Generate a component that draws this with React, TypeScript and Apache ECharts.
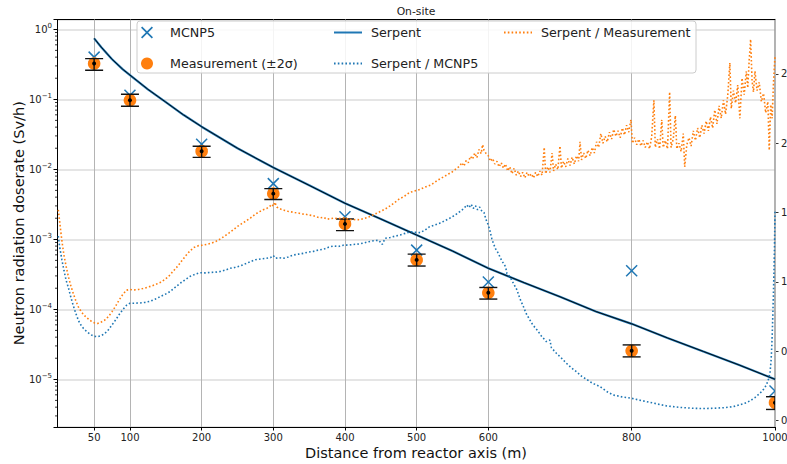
import { useEffect, useRef } from "react";
import * as echarts from "echarts";

const FONT = "DejaVu Sans";
const BLUE = "#1f77b4";
const ORANGE = "#ff7f0e";
const TEXT = "#222222";

// Distance ticks on the x axis (m)
const distanceTicks = [50, 100, 200, 300, 400, 500, 600, 800, 1000];
// Ticks of the ratio axis
const ratioTicks = [0, 0.5, 1, 1.5, 2, 2.5];
// Minor ticks of the log dose axis
const logMinorTicks = [
  3e-6, 4e-6, 5e-6, 6e-6, 7e-6, 8e-6, 9e-6,
  2e-5, 3e-5, 4e-5, 5e-5, 6e-5, 7e-5, 8e-5, 9e-5,
  2e-4, 3e-4, 4e-4, 5e-4, 6e-4, 7e-4, 8e-4, 9e-4,
  2e-3, 3e-3, 4e-3, 5e-3, 6e-3, 7e-3, 8e-3, 9e-3,
  2e-2, 3e-2, 4e-2, 5e-2, 6e-2, 7e-2, 8e-2, 9e-2,
  2e-1, 3e-1, 4e-1, 5e-1, 6e-1, 7e-1, 8e-1, 9e-1,
];

// Measurement points (Sv/h) with ±2σ bounds
const measurementDistance = [50, 100, 200, 300, 400, 500, 600, 800, 1000];
const measurement = [0.324, 0.0968, 0.0181, 0.00449, 0.00166, 0.000508, 0.000172, 2.55e-5, 4.63e-6];
const measurementLow = [0.26, 0.0796, 0.0148, 0.0037, 0.00133, 0.000415, 0.00014, 2.09e-5, 3.71e-6];
const measurementHigh = [0.381, 0.118, 0.0213, 0.0053, 0.00195, 0.000614, 0.000205, 3.1e-5, 5.64e-6];

// MCNP5 results (Sv/h)
const mcnp5 = [0.4, 0.114, 0.0228, 0.00624, 0.0021, 0.0007, 0.000246, 0.000355, 6.8e-6];

// Serpent dose rate along the distance (Sv/h)
const serpentDistance = [
  50, 60, 75, 90, 100, 125, 150, 175, 200, 250, 300, 350, 400, 450, 500, 550, 600, 650,
  700, 750, 800, 850, 900, 950, 1000,
];
const serpentDose = [
  0.743, 0.555, 0.373, 0.268, 0.222, 0.139, 0.091, 0.0596, 0.0406, 0.02, 0.0106, 0.0059,
  0.00327, 0.00195, 0.00115, 0.00068, 0.000385, 0.00024, 0.000151, 9.3e-5, 6.2e-5, 3.9e-5,
  2.5e-5, 1.6e-5, 1.0e-5,
];

// Ratio Serpent / Measurement along the distance
const serpentOverMeasurement: [number, number][] = [
  [0, 1.52], [2, 1.43], [4, 1.34], [6, 1.26], [8, 1.19], [11, 1.11], [14, 1.04], [17, 0.98],
  [20, 0.93], [24, 0.87], [28, 0.82], [32, 0.785], [36, 0.76], [40, 0.74], [45, 0.72], [50, 0.705],
  [55, 0.7], [60, 0.71], [65, 0.725], [70, 0.75], [75, 0.785], [80, 0.825], [85, 0.87], [90, 0.91],
  [95, 0.94], [100, 0.945], [106, 0.942], [112, 0.945], [118, 0.952], [124, 0.96], [130, 0.97],
  [136, 0.982], [142, 0.995], [148, 1.015], [154, 1.04], [160, 1.075], [166, 1.11], [172, 1.15],
  [178, 1.19], [184, 1.225], [190, 1.25], [196, 1.262], [202, 1.265], [208, 1.272], [214, 1.28],
  [220, 1.292], [226, 1.31], [232, 1.33], [238, 1.352], [244, 1.375], [250, 1.4], [256, 1.42],
  [262, 1.44], [268, 1.46], [274, 1.485], [280, 1.505], [286, 1.52], [291, 1.53], [295, 1.545],
  [298, 1.56], [300, 1.545], [302, 1.575], [305, 1.54], [308, 1.53], [312, 1.522], [316, 1.515],
  [320, 1.51], [325, 1.505], [330, 1.5], [335, 1.497], [340, 1.49], [345, 1.488], [350, 1.482],
  [355, 1.478], [360, 1.47], [365, 1.462], [370, 1.466], [375, 1.452], [380, 1.457], [385, 1.46],
  [390, 1.455], [395, 1.46], [400, 1.462], [405, 1.452], [410, 1.447], [415, 1.45], [420, 1.448],
  [425, 1.455], [430, 1.462], [435, 1.472], [440, 1.485], [445, 1.497], [450, 1.51], [455, 1.522],
  [460, 1.538], [465, 1.556], [470, 1.575], [475, 1.595], [480, 1.61], [485, 1.625], [490, 1.645],
  [495, 1.652], [500, 1.66], [505, 1.668], [510, 1.68], [515, 1.69], [520, 1.7], [525, 1.718],
  [530, 1.735], [535, 1.75], [540, 1.765], [545, 1.78], [550, 1.795], [555, 1.815], [560, 1.835],
  [563, 1.86], [566, 1.835], [569, 1.875], [572, 1.86], [575, 1.905], [578, 1.885], [581, 1.93],
  [584, 1.895], [587, 1.955], [590, 1.925], [592, 1.99], [594, 1.95], [597, 1.925],
  [600, 1.91], [603, 1.87], [606, 1.89], [609, 1.85], [612, 1.87], [615, 1.83], [618, 1.86],
  [621, 1.82], [624, 1.85], [627, 1.8], [630, 1.83], [633, 1.78], [636, 1.82], [639, 1.77],
  [642, 1.8], [645, 1.76], [648, 1.79], [651, 1.75], [654, 1.79], [657, 1.76], [660, 1.78],
  [663, 1.75], [666, 1.79], [669, 1.76], [672, 1.8], [675, 1.77], [678, 1.97], [680, 1.78],
  [683, 1.83], [686, 1.79], [689, 1.93], [691, 1.8], [694, 1.85], [697, 1.81], [700, 1.98],
  [702, 1.82], [705, 1.87], [708, 1.83], [711, 1.89], [714, 1.84], [717, 1.9], [720, 1.85],
  [723, 1.91], [726, 1.87], [728, 2.01], [730, 1.88], [733, 1.93], [736, 1.89], [739, 1.95],
  [742, 1.91], [745, 1.97], [748, 1.93], [751, 2.01], [754, 1.97], [757, 2.07], [760, 2.0],
  [763, 2.05], [766, 2.01], [769, 2.08], [772, 2.03], [775, 2.1], [778, 2.05], [781, 2.09],
  [784, 2.04], [787, 2.11], [790, 2.06], [793, 2.13], [796, 2.08], [799, 2.17], [801, 2.0],
  [804, 2.04], [807, 1.99], [810, 2.03], [813, 1.98], [816, 2.02], [819, 1.97], [822, 2.01],
  [825, 1.96], [828, 2.05], [831, 2.31], [833, 1.97], [836, 2.03], [839, 1.96], [842, 2.17],
  [844, 1.97], [847, 2.02], [850, 1.96], [853, 2.37], [855, 1.97], [858, 2.03], [861, 2.2],
  [863, 1.96], [866, 2.0], [869, 1.94], [872, 2.07], [874, 1.83], [877, 1.99], [880, 2.04],
  [883, 1.98], [886, 2.09], [889, 2.02], [892, 2.11], [895, 2.04], [898, 2.13], [901, 2.07],
  [904, 2.16], [907, 2.09], [910, 2.19], [913, 2.11], [916, 2.24], [919, 2.14], [922, 2.27],
  [925, 2.18], [928, 2.31], [931, 2.21], [934, 2.34], [937, 2.58], [939, 2.25], [942, 2.38],
  [945, 2.29], [948, 2.42], [951, 2.18], [954, 2.47], [957, 2.35], [960, 2.52], [962, 2.4],
  [964, 2.6], [966, 2.75], [968, 2.45], [970, 2.37], [972, 2.52], [975, 2.38], [978, 2.44],
  [981, 2.3], [984, 2.36], [987, 2.22], [990, 2.3], [992, 1.95], [994, 2.28], [996, 2.18],
  [998, 2.45], [1000, 2.63],
];

// Ratio Serpent / MCNP5 along the distance
const serpentOverMcnp5: [number, number][] = [
  [0, 1.33], [2, 1.25], [5, 1.16], [8, 1.08], [11, 1.01], [14, 0.96], [18, 0.88], [22, 0.81],
  [26, 0.75], [30, 0.7], [35, 0.665], [40, 0.64], [45, 0.62], [50, 0.607], [55, 0.605],
  [60, 0.612], [65, 0.628], [70, 0.655], [75, 0.69], [80, 0.725], [85, 0.765], [90, 0.8],
  [95, 0.83], [100, 0.846], [107, 0.846], [114, 0.848], [121, 0.852], [128, 0.86], [135, 0.875],
  [142, 0.893], [149, 0.91], [156, 0.93], [163, 0.96], [170, 0.99], [177, 1.015], [184, 1.04],
  [191, 1.055], [198, 1.066], [205, 1.065], [212, 1.068], [219, 1.07], [226, 1.075], [233, 1.085],
  [240, 1.098], [247, 1.105], [254, 1.115], [261, 1.13], [268, 1.146], [275, 1.16], [282, 1.165],
  [289, 1.17], [296, 1.175], [300, 1.19], [303, 1.17], [307, 1.175], [314, 1.17], [321, 1.18],
  [328, 1.194], [335, 1.2], [342, 1.206], [349, 1.215], [356, 1.22], [363, 1.23], [370, 1.235],
  [377, 1.25], [384, 1.259], [391, 1.255], [398, 1.265], [405, 1.266], [412, 1.27], [419, 1.273],
  [426, 1.28], [433, 1.29], [440, 1.297], [447, 1.3], [452, 1.27], [456, 1.315], [463, 1.32],
  [470, 1.33], [477, 1.338], [484, 1.35], [491, 1.362], [498, 1.358], [505, 1.355], [512, 1.375],
  [518, 1.398], [525, 1.41], [532, 1.423], [539, 1.44], [546, 1.459], [553, 1.48], [560, 1.506],
  [566, 1.53], [570, 1.555], [573, 1.535], [576, 1.56], [579, 1.53], [582, 1.55], [585, 1.52],
  [588, 1.54], [591, 1.51], [594, 1.5], [597, 1.447], [600, 1.41], [602, 1.374], [605, 1.31],
  [607, 1.278], [610, 1.24], [614, 1.206], [617, 1.17], [621, 1.134], [624, 1.11], [626, 1.06],
  [630, 1.038], [635, 0.99], [640, 0.942], [644, 0.88], [649, 0.821], [653, 0.77], [658, 0.725],
  [662, 0.69], [668, 0.653], [674, 0.61], [681, 0.569], [686, 0.58], [688, 0.525], [695, 0.485],
  [702, 0.45], [709, 0.413], [716, 0.38], [723, 0.352], [730, 0.32], [737, 0.297], [745, 0.27],
  [756, 0.244], [765, 0.21], [774, 0.184], [787, 0.17], [800, 0.16], [810, 0.148], [821, 0.136],
  [835, 0.12], [849, 0.105], [866, 0.095], [886, 0.088], [900, 0.086], [914, 0.088], [928, 0.092],
  [942, 0.1], [950, 0.112], [958, 0.125], [965, 0.141], [972, 0.165], [979, 0.196], [984, 0.225],
  [988, 0.256], [991, 0.3], [993, 0.341], [994.5, 0.43], [995.5, 0.532], [996.5, 0.68],
  [997.7, 0.893], [998.5, 1.06], [999.3, 1.254], [1000, 1.506],
];

const X_MIN = -1.8;
const X_MAX = 1000;
const DOSE_MIN = 2.083e-6;
const DOSE_MAX = 1.38;
const RATIO_MIN = -0.047;
const RATIO_MAX = 2.893;

const X_ICON = "path://M0,1L1,0L5,4L9,0L10,1L6,5L10,9L9,10L5,6L1,10L0,9L4,5Z";
const DOT_DASH = [1.6, 2.2];

function powerLabel(v: number): string {
  const e = Math.log10(v);
  const r = Math.round(e);
  if (Math.abs(e - r) > 1e-6) return "";
  const exp = r < 0 ? "\u2212" + Math.abs(r) : String(r);
  return `{b|10}{s|${exp}}`;
}

const legendBase = {
  orient: "horizontal",
  padding: 0,
  itemWidth: 28,
  itemHeight: 12,
  selectedMode: false,
  textStyle: { fontFamily: FONT, fontSize: 12.7, color: TEXT, padding: [0, 0, 0, 4] },
};

// line entries show only the stroke, no point symbol
const lineEntry = (name: string) => ({ name, itemStyle: { opacity: 0 } });

function buildOption() {
  return {
    animation: false,
    backgroundColor: "#ffffff",
    grid: { left: 57, right: 12, top: 19.5, bottom: 37, outerBoundsMode: "none" },
    graphic: [
      {
        type: "text",
        x: 416,
        y: 11,
        style: {
          text: "On-site",
          align: "center",
          verticalAlign: "middle",
          textAlign: "center",
          textVerticalAlign: "middle",
          fontFamily: FONT,
          fontSize: 10.8,
          fill: TEXT,
        },
      },
      {
        type: "rect",
        z: 3,
        shape: { x: 137, y: 21, width: 559, height: 52, r: 3 },
        style: { fill: "rgba(255,255,255,0.85)", stroke: "#cccccc", lineWidth: 1 },
      },
    ],
    legend: [
      { ...legendBase, left: 141, top: 26, data: [{ name: "MCNP5", icon: X_ICON }] },
      { ...legendBase, left: 141, top: 57, data: [{ name: "Measurement (±2σ)", icon: "circle" }] },
      { ...legendBase, left: 333, top: 26, data: [lineEntry("Serpent")] },
      { ...legendBase, left: 333, top: 57, data: [lineEntry("Serpent / MCNP5")] },
      { ...legendBase, left: 503, top: 26, data: [lineEntry("Serpent / Measurement")] },
    ],
    xAxis: [
      {
        type: "value",
        min: X_MIN,
        max: X_MAX,
        position: "bottom",
        axisLine: { show: true, onZero: false, lineStyle: { color: "#000", width: 1 } },
        axisTick: { show: true, customValues: distanceTicks, length: 3.5, lineStyle: { color: "#000" } },
        axisLabel: {
          customValues: distanceTicks,
          formatter: (v: number) => String(v),
          fontFamily: FONT,
          fontSize: 10,
          color: TEXT,
          margin: 5,
        },
        splitLine: { show: false },
        name: "Distance from reactor axis (m)",
        nameLocation: "middle",
        nameGap: 18,
        nameMoveOverlap: false,
        nameTextStyle: { fontFamily: FONT, fontSize: 14.5, color: "#111" },
      },
      {
        type: "value",
        min: X_MIN,
        max: X_MAX,
        position: "top",
        axisLine: { show: true, onZero: false, lineStyle: { color: "#000", width: 1 } },
        axisTick: { show: false },
        axisLabel: { show: false },
        splitLine: { show: false },
      },
    ],
    yAxis: [
      {
        type: "log",
        logBase: 10,
        min: DOSE_MIN,
        max: DOSE_MAX,
        position: "left",
        axisLine: { show: true, onZero: false, lineStyle: { color: "#000", width: 1 } },
        axisTick: { show: true, length: 3.5, lineStyle: { color: "#000" } },
        axisLabel: {
          formatter: powerLabel,
          margin: 5,
          color: TEXT,
          rich: {
            b: { fontFamily: FONT, fontSize: 10, lineHeight: 13, color: TEXT },
            s: { fontFamily: FONT, fontSize: 7, lineHeight: 8, verticalAlign: "top", color: TEXT },
          },
        },
        splitLine: { show: true, lineStyle: { color: "#dddddd", width: 1.5 } },
        name: "Neutron radiation doserate (Sv/h)",
        nameLocation: "middle",
        nameGap: 31,
        nameMoveOverlap: false,
        nameTextStyle: { fontFamily: FONT, fontSize: 14.5, color: "#111" },
      },
      {
        type: "value",
        min: RATIO_MIN,
        max: RATIO_MAX,
        position: "right",
        axisLine: { show: true, onZero: false, lineStyle: { color: "#999999", width: 1.5 } },
        axisTick: { show: true, customValues: ratioTicks, length: 3.5, lineStyle: { color: "#333" } },
        axisLabel: {
          customValues: ratioTicks,
          formatter: (v: number) => v.toFixed(1),
          fontFamily: FONT,
          fontSize: 10,
          color: TEXT,
          margin: 6,
        },
        splitLine: { show: false },
      },
    ],
    series: [
      {
        name: "MCNP5",
        type: "custom",
        xAxisIndex: 0,
        yAxisIndex: 0,
        clip: true,
        z: 2,
        itemStyle: { color: BLUE },
        data: measurementDistance.map((d, i) => [d, mcnp5[i]]),
        encode: { x: 0, y: 1 },
        renderItem: (_p: any, api: any) => {
          const c = api.coord([api.value(0), api.value(1)]);
          const h = 5.5;
          const st = { stroke: BLUE, lineWidth: 1.5 };
          return {
            type: "group",
            children: [
              { type: "line", shape: { x1: c[0] - h, y1: c[1] - h, x2: c[0] + h, y2: c[1] + h }, style: st },
              { type: "line", shape: { x1: c[0] - h, y1: c[1] + h, x2: c[0] + h, y2: c[1] - h }, style: st },
            ],
          };
        },
      },
      {
        name: "Measurement (±2σ)",
        type: "custom",
        xAxisIndex: 0,
        yAxisIndex: 0,
        clip: true,
        z: 2,
        itemStyle: { color: ORANGE },
        data: measurementDistance.map((d, i) => [d, measurement[i], measurementLow[i], measurementHigh[i]]),
        encode: { x: 0, y: [1, 2, 3] },
        renderItem: (_p: any, api: any) => {
          const x = api.value(0);
          const c = api.coord([x, api.value(1)]);
          const lo = api.coord([x, api.value(2)]);
          const hi = api.coord([x, api.value(3)]);
          const cap = 9;
          const bar = { stroke: "#111", lineWidth: 1.4 };
          return {
            type: "group",
            children: [
              { type: "circle", shape: { cx: c[0], cy: c[1], r: 6.3 }, style: { fill: ORANGE } },
              { type: "line", shape: { x1: lo[0], y1: lo[1], x2: hi[0], y2: hi[1] }, style: bar },
              { type: "line", shape: { x1: lo[0] - cap, y1: lo[1], x2: lo[0] + cap, y2: lo[1] }, style: bar },
              { type: "line", shape: { x1: hi[0] - cap, y1: hi[1], x2: hi[0] + cap, y2: hi[1] }, style: bar },
              { type: "circle", shape: { cx: c[0], cy: c[1], r: 2 }, style: { fill: "#000" } },
            ],
          };
        },
      },
      {
        name: "Serpent",
        type: "line",
        xAxisIndex: 0,
        yAxisIndex: 0,
        z: 2,
        symbol: "none",
        showSymbol: false,
        data: serpentDistance.map((d, i) => [d, serpentDose[i]]),
        lineStyle: { color: BLUE, width: 2.2 },
        itemStyle: { color: BLUE },
        markLine: {
          silent: true,
          z: 1,
          symbol: ["none", "none"],
          label: { show: false },
          lineStyle: { color: "#b4b4b4", width: 1, type: "solid" },
          emphasis: { disabled: true },
          data: distanceTicks.map((d) => ({ xAxis: d })),
        },
      },
      {
        name: "Serpent trace",
        type: "line",
        xAxisIndex: 0,
        yAxisIndex: 0,
        z: 2,
        symbol: "none",
        showSymbol: false,
        silent: true,
        data: serpentDistance.map((d, i) => [d, serpentDose[i]]),
        lineStyle: { color: "#000", width: 0.9 },
      },
      {
        name: "Serpent / MCNP5",
        type: "line",
        xAxisIndex: 0,
        yAxisIndex: 1,
        z: 3,
        symbol: "none",
        showSymbol: false,
        data: serpentOverMcnp5,
        lineStyle: { color: BLUE, width: 1.6, type: DOT_DASH },
        itemStyle: { color: BLUE },
      },
      {
        name: "Serpent / Measurement",
        type: "line",
        xAxisIndex: 0,
        yAxisIndex: 1,
        z: 3,
        symbol: "none",
        showSymbol: false,
        data: serpentOverMeasurement,
        lineStyle: { color: ORANGE, width: 1.6, type: DOT_DASH },
        itemStyle: { color: ORANGE },
      },
      {
        name: "minor ticks",
        type: "custom",
        xAxisIndex: 0,
        yAxisIndex: 0,
        silent: true,
        clip: false,
        data: logMinorTicks.map((v) => [0, v]),
        encode: { x: 0, y: 1 },
        renderItem: (p: any, api: any) => {
          const pt = api.coord([api.value(0), api.value(1)]);
          const left = p.coordSys.x;
          return {
            type: "line",
            shape: { x1: left - 2, y1: pt[1], x2: left, y2: pt[1] },
            style: { stroke: "#000", lineWidth: 0.8 },
          };
        },
      },
    ],
  };
}

export default function App() {
  const ref = useRef<HTMLDivElement>(null);
  useEffect(() => {
    if (!ref.current) return;
    const chart = echarts.init(ref.current, null, { renderer: "svg" });
    chart.setOption(buildOption() as any);
    return () => chart.dispose();
  }, []);
  return (
    <div
      ref={ref}
      style={{ position: "absolute", left: 0, top: 0, width: 787, height: 464, background: "#fff" }}
    />
  );
}
